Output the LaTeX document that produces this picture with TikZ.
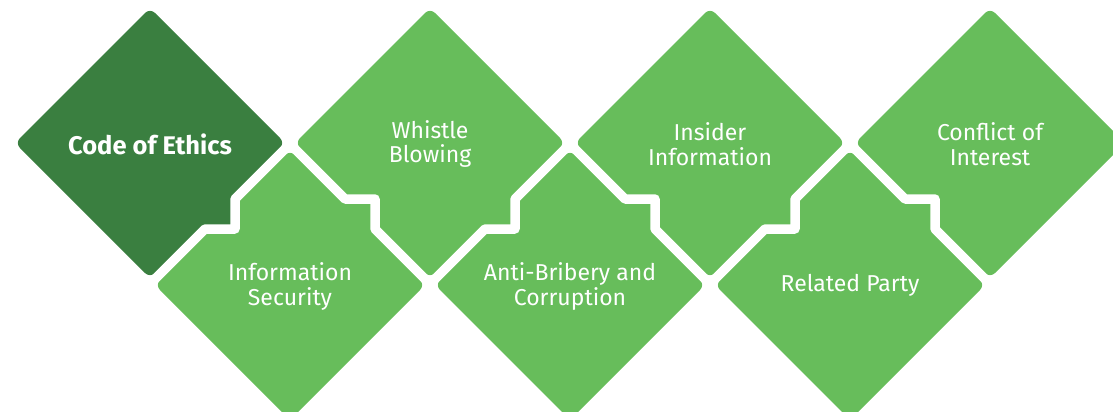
\documentclass[tikz,border=0pt]{standalone}
\usepackage{fontspec}
\setmainfont{Fira Sans}
\definecolor{dk}{HTML}{3A7F40}
\definecolor{lt}{HTML}{67BD5B}
\begin{document}
\begin{tikzpicture}[x=1pt,y=-1pt,
  dia/.style={rounded corners=7pt},
  sep/.style={draw=white,line width=9.5pt,line join=round,line cap=round},
  lbl/.style={text=white,align=center,inner sep=0pt,font=\fontsize{23}{24.5}\selectfont}]
\useasboundingbox (0,0) rectangle (1113,412);
\clip (0,0) rectangle (1113,412);
% diamonds
\foreach \cx/\cy/\col in {290/285/lt, 570/285/lt, 850/285/lt, 150/143/dk, 430/143/lt, 710/143/lt, 990/143/lt} {
  \fill[\col, dia] (\cx,\cy-135) -- (\cx+135,\cy) -- (\cx,\cy+135) -- (\cx-135,\cy) -- cycle;
}
% bumps (left shape extends into right shape)
\fill[dk] (235,199) -- (235,229) -- (205,229) -- (193,217) -- (223,187) -- cycle;
\fill[lt] (345,199) -- (375,199) -- (375,229) -- (363,241) -- (333,211) -- cycle;
\fill[lt] (515,199) -- (515,229) -- (485,229) -- (473,217) -- (503,187) -- cycle;
\fill[lt] (625,199) -- (655,199) -- (655,229) -- (643,241) -- (613,211) -- cycle;
\fill[lt] (795,199) -- (795,229) -- (765,229) -- (753,217) -- (783,187) -- cycle;
\fill[lt] (905,199) -- (935,199) -- (935,229) -- (923,241) -- (893,211) -- cycle;
% white separators
\draw[sep] (290,144) -- (235,199) -- (235,229) -- (205,229) -- (144,290);
\draw[sep] (290,144) -- (345,199) -- (375,199) -- (375,229) -- (430,284);
\draw[sep] (570,144) -- (515,199) -- (515,229) -- (485,229) -- (430,284);
\draw[sep] (570,144) -- (625,199) -- (655,199) -- (655,229) -- (710,284);
\draw[sep] (850,144) -- (795,199) -- (795,229) -- (765,229) -- (710,284);
\draw[sep] (850,144) -- (905,199) -- (935,199) -- (935,229) -- (996,290);
% labels
\node[lbl,font=\fontsize{25.5}{27}\selectfont\bfseries] (coe) at (150,144.5) {Code of Ethics};
\node[lbl] (wb) at (430,144) {Whistle\\Blowing};
\node[lbl] (ii) at (710,144) {Insider\\Information};
\node[lbl] (ci) at (990,144) {Conflict of\\Interest};
\node[lbl] (is) at (290,286.5) {Information\\Security};
\node[lbl] (ab) at (570,286.5) {Anti-Bribery and\\Corruption};
\node[lbl] (rp) at (850,285.5) {Related Party};
\end{tikzpicture}
\end{document}
